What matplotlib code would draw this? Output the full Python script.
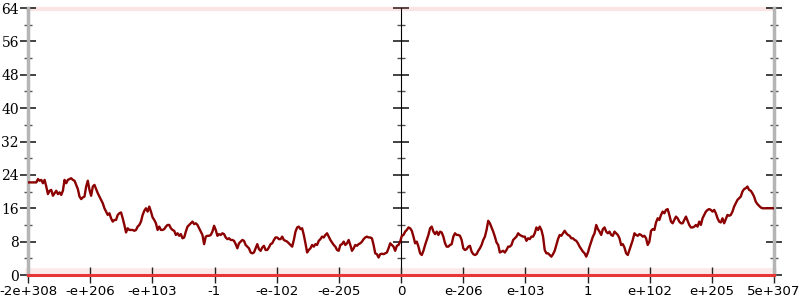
import numpy as np
import matplotlib
matplotlib.use("Agg")
import matplotlib.pyplot as plt
from matplotlib.ticker import MultipleLocator, NullFormatter

# tick labels along the x axis (one per major tick)
x_labels = ['-2e+308', '-e+206', '-e+103', '-1', '-e-102', '-e-205', '0',
            'e-206', 'e-103', '1', 'e+102', 'e+205', '5e+307']

# series, left half (negative side)
left_vals = [
    22.2, 22.2, 22.2, 22.2, 22.2, 22.2, 23.0, 22.6, 22.8, 22.0, 22.8, 21.2,
    19.4, 20.2, 20.4, 19.0, 19.6, 20.2, 19.4, 19.8, 19.2, 20.2, 22.8, 22.0,
    22.8, 23.0, 23.2, 22.8, 22.6, 21.6, 20.6, 18.8, 18.2, 18.6, 18.8, 21.2,
    22.6, 20.4, 19.0, 21.2, 21.6, 20.6, 19.6, 18.8, 18.0, 17.2, 16.0, 15.2,
    14.4, 14.8, 13.6, 12.8, 13.2, 13.2, 14.4, 14.8, 15.0, 13.6, 12.0, 10.2,
    11.2, 10.8, 10.8, 10.8, 10.6, 10.8, 11.6, 12.0, 12.8, 14.4, 15.4, 16.0,
    15.2, 16.4, 15.2, 13.8, 13.2, 12.4, 10.8, 11.6, 10.8, 10.8, 11.0, 11.6,
    12.0, 12.0, 11.2, 10.8, 10.6, 9.6, 10.0, 9.4, 9.8, 8.8, 9.0, 10.4,
    11.6, 12.0, 12.4, 12.8, 12.2, 12.4, 12.0, 11.2, 10.4, 9.6, 7.4, 9.2,
    9.4, 9.4, 9.6, 10.4, 11.8, 10.8, 9.4, 9.8, 9.6, 10.0, 9.8, 9.0,
    8.6, 8.8, 8.4, 8.4, 8.2, 7.4, 6.4, 7.6, 8.0, 8.4, 8.2, 7.2,
    6.8, 6.4, 5.4, 5.2, 5.4, 6.4, 7.4, 6.2, 5.8, 6.6, 7.0, 6.0,
    6.0, 6.6, 7.4, 7.6, 8.4, 9.0, 9.0, 8.6, 8.6, 9.2, 8.4, 8.2,
    8.0, 7.6, 7.2, 6.8, 8.4, 10.4, 11.4, 11.6, 11.0, 11.2, 9.6, 7.6,
    5.4, 6.0, 6.4, 7.2, 6.8, 7.4, 7.2, 8.2, 8.6, 9.2, 9.0, 9.6,
    10.0, 9.2, 8.4, 7.8, 7.2, 6.8, 6.0, 5.8, 7.2, 7.4, 8.0, 7.2,
    7.6, 8.4, 7.2, 5.8, 6.4, 7.2, 7.0, 7.4, 7.6, 8.0, 8.6, 9.0,
    9.2, 9.0, 9.0, 8.8, 7.2, 5.2, 5.0, 4.2, 5.0, 5.1, 5.0, 5.2,
    5.4, 6.4, 7.6, 7.2, 6.8, 5.8, 7.0, 7.2, 8.0,
]

# right half (positive side)
right_vals = [
    9.4, 9.6, 10.4, 10.8, 11.4, 11.2, 10.6, 9.2, 7.6, 8.0, 6.8, 5.2,
    4.8, 5.8, 7.2, 8.4, 9.6, 11.2, 11.6, 10.4, 9.8, 10.4, 9.6, 10.4,
    10.2, 9.2, 7.6, 6.8, 6.8, 7.2, 7.4, 9.2, 10.0, 9.6, 9.6, 9.4,
    8.4, 6.4, 6.0, 6.2, 6.8, 7.0, 5.6, 5.0, 4.8, 5.0, 5.8, 6.4,
    7.2, 8.4, 9.2, 10.8, 13.0, 12.4, 11.4, 10.4, 9.2, 7.8, 7.2, 5.4,
    5.6, 5.8, 5.4, 6.0, 6.8, 6.8, 7.2, 8.4, 8.8, 9.2, 10.0, 9.6,
    9.4, 9.2, 9.2, 8.2, 8.8, 8.6, 9.2, 9.2, 10.0, 11.4, 10.8, 11.6,
    10.8, 9.2, 6.0, 5.2, 5.2, 4.8, 4.4, 5.0, 5.8, 7.2, 8.6, 9.6,
    9.4, 10.0, 10.6, 10.0, 9.6, 9.4, 8.8, 8.8, 8.4, 8.2, 7.6, 6.8,
    6.2, 5.6, 5.2, 4.4, 5.4, 6.8, 8.0, 9.2, 10.0, 12.0, 11.0, 10.4,
    9.6, 11.0, 11.4, 10.4, 10.0, 10.4, 9.6, 9.4, 10.4, 10.0, 9.6, 8.8,
    7.2, 7.4, 6.6, 5.2, 4.8, 6.0, 7.2, 8.4, 10.0, 9.6, 9.4, 9.8,
    9.6, 9.2, 9.4, 8.8, 7.2, 8.0, 10.6, 11.0, 10.8, 12.6, 13.6, 13.2,
    14.4, 15.2, 14.8, 15.6, 15.8, 14.4, 12.8, 12.4, 13.2, 14.0, 13.6, 12.8,
    12.4, 12.4, 13.2, 14.0, 13.0, 12.0, 11.4, 11.4, 11.6, 12.0, 11.6, 12.8,
    12.0, 13.6, 14.4, 15.2, 15.6, 15.8, 15.6, 15.2, 15.6, 14.8, 13.6, 12.8,
    12.6, 13.6, 12.4, 13.4, 14.4, 14.2, 14.4, 15.2, 16.4, 17.2, 18.0, 18.4,
    18.8, 20.0, 20.6, 20.8, 21.2, 20.4, 20.2, 19.6, 18.8, 17.6, 17.0, 16.6,
    16.2, 16.0, 16.0, 16.0, 16.0, 16.0, 16.0, 16.0, 16.0,
]

# saturated values pile up at the limits of the y range
y_low = 0
y_high = 64


def main():
    vals = np.array(left_vals + right_vals)
    n_ticks = len(x_labels)
    x = np.linspace(0, n_ticks - 1, len(vals))

    fig = plt.figure(figsize=(8, 3), dpi=100)
    ax = fig.add_axes([0.035, 0.0833, 0.9325, 0.89])

    # faint bands of clipped samples at the top and bottom
    ax.plot(x, np.full_like(x, y_high - 0.2), color='#e84a4a', alpha=0.15,
            lw=3, zorder=1, clip_on=False)
    ax.plot(x, np.full_like(x, y_low + 1.0), color='#e84a4a', alpha=0.12,
            lw=4, zorder=1, clip_on=False)
    ax.plot(x, np.full_like(x, y_low), color='#e83535', lw=2.2, zorder=4,
            clip_on=False)

    ax.plot(x, vals, color='#8b0000', lw=1.7, zorder=3)

    ax.set_xlim(0, n_ticks - 1)
    ax.set_ylim(y_low, y_high)

    for side in ['top', 'bottom']:
        ax.spines[side].set_visible(False)
    for side in ['left', 'right']:
        ax.spines[side].set_color('#b5b5b5')
        ax.spines[side].set_linewidth(2.5)

    ax.set_xticks(np.arange(n_ticks))
    ax.set_xticklabels(x_labels, fontsize=9.6, family='DejaVu Sans')
    ax.tick_params(axis='x', direction='inout', length=11, width=1,
                   color='#222222', pad=2)

    ax.yaxis.set_major_locator(MultipleLocator(8))
    ax.yaxis.set_minor_locator(MultipleLocator(4))
    ax.tick_params(axis='y', which='major', direction='inout', length=11,
                   width=1.2, color='#222222', right=True, pad=1,
                   labelsize=10, labelfontfamily='DejaVu Serif')
    ax.tick_params(axis='y', which='minor', direction='inout', length=6,
                   width=1, color='#555555', right=True)

    # axis through zero in the middle
    mid = ax.secondary_yaxis(0.5)
    mid.spines['left'].set_color('#999999')
    mid.spines['left'].set_linewidth(1.5)
    mid.yaxis.set_major_locator(MultipleLocator(8))
    mid.yaxis.set_minor_locator(MultipleLocator(4))
    mid.yaxis.set_major_formatter(NullFormatter())
    mid.tick_params(which='major', direction='inout', length=11, width=1.2,
                    color='#222222', labelleft=False, labelright=False)
    mid.tick_params(which='minor', direction='inout', length=6, width=1,
                    color='#555555')

    fig.savefig('out.png', dpi=100)


if __name__ == "__main__":
    main()
